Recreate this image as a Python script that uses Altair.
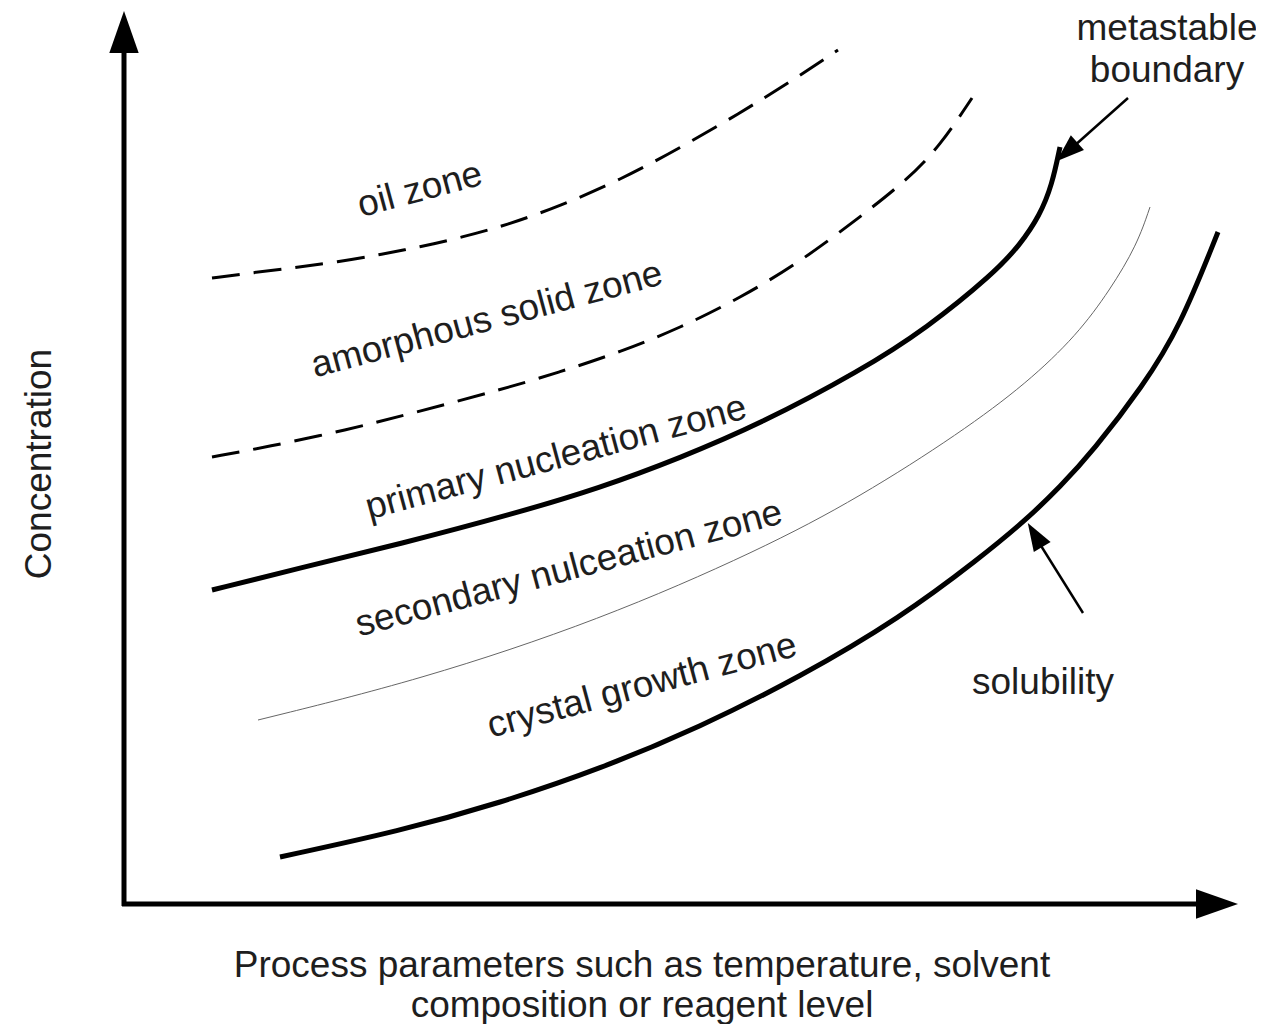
import altair as alt
import pandas as pd

# ---- curve data (page-pixel coordinates) ----
oil_x = [212, 250, 293, 337, 383, 420, 463, 507, 560, 620, 680, 740, 790, 838]
oil_y = [278, 273, 268, 262, 254, 247, 237, 225, 206, 180, 148, 113, 82, 50]

amorph_x = [212, 267, 347, 413, 500, 560, 620, 680, 740, 800, 860, 907, 940, 972]
amorph_y = [457, 447, 430, 413, 390, 372, 352, 328, 298, 262, 217, 180, 146, 98]

primary_x = [212, 300, 400, 513, 600, 680, 760, 860, 927, 993, 1020, 1040, 1052, 1060]
primary_y = [590, 568, 544, 514, 488, 458, 424, 371, 328, 274, 245, 215, 185, 147]

secondary_x = [258, 420, 600, 760, 860, 960, 1027, 1077, 1110, 1137, 1150]
secondary_y = [720, 680, 620, 550, 497, 433, 383, 335, 290, 245, 207]

solub_x = [280, 400, 500, 600, 700, 800, 900, 980, 1027, 1060, 1093, 1143, 1180, 1218]
solub_y = [857, 831, 803, 769, 727, 677, 618, 558, 519, 487, 451, 386, 327, 232]

# ---- axes, pointer arrows ----
axis_x1 = [124, 122]
axis_y1 = [906, 904]
axis_x2 = [124, 1200]
axis_y2 = [50, 904]

head_x = [124, 1217, 1067, 1035]
head_y = [32, 904, 152, 535]
head_angle = [0, 90, 228, 329]
head_size = [1764, 1764, 784, 784]

ptr_x1 = [1128, 1083]
ptr_y1 = [98, 613]
ptr_x2 = [1064, 1033]
ptr_y2 = [155, 533]

# ---- text labels ----
zone_labels = ["oil zone", "amorphous solid zone", "primary nucleation zone",
               "secondary nulceation zone", "crystal growth zone"]
zone_x = [420, 487, 556, 569, 642]
zone_y = [190, 320, 458, 569, 686]
zone_angle = [345, 345, 345, 345, 345]

plain_labels = ["metastable", "boundary", "solubility",
                "Process parameters such as temperature, solvent",
                "composition or reagent level"]
plain_x = [1167, 1167, 1043, 642, 642]
plain_y = [40, 82, 694, 977, 1017]

ylabel = ["Concentration"]
ylabel_x = [51]
ylabel_y = [464]

FONT = "Liberation Sans"
FS = 37

xs = alt.Scale(domain=[8, 1256], zero=False, nice=False)
ys = alt.Scale(domain=[1024, 8], zero=False, nice=False)


def curve(xv, yv, color="black", **mk):
    df = pd.DataFrame({"x": xv, "y": yv})
    return alt.Chart(df).mark_line(interpolate="basis", color=color, **mk).encode(
        x=alt.X("x:Q", scale=xs, axis=None),
        y=alt.Y("y:Q", scale=ys, axis=None),
        order="x:Q",
    )


oil = curve(oil_x, oil_y, strokeWidth=3, strokeDash=[28, 14])
amorph = curve(amorph_x, amorph_y, strokeWidth=3, strokeDash=[28, 14])
primary = curve(primary_x, primary_y, strokeWidth=5)
secondary = curve(secondary_x, secondary_y, color="#666666", strokeWidth=1)
solub = curve(solub_x, solub_y, strokeWidth=5)

axes_df = pd.DataFrame({"x": axis_x1, "y": axis_y1, "x2": axis_x2, "y2": axis_y2})
axes = alt.Chart(axes_df).mark_rule(color="black", strokeWidth=5, strokeCap="butt").encode(
    x=alt.X("x:Q", scale=xs, axis=None), y=alt.Y("y:Q", scale=ys, axis=None),
    x2="x2:Q", y2="y2:Q",
)

ptr_df = pd.DataFrame({"x": ptr_x1, "y": ptr_y1, "x2": ptr_x2, "y2": ptr_y2})
ptrs = alt.Chart(ptr_df).mark_rule(color="black", strokeWidth=2.5).encode(
    x=alt.X("x:Q", scale=xs, axis=None), y=alt.Y("y:Q", scale=ys, axis=None),
    x2="x2:Q", y2="y2:Q",
)

head_df = pd.DataFrame({"x": head_x, "y": head_y, "a": head_angle, "s": head_size})
heads = alt.Chart(head_df).mark_point(
    shape="M0,-1L0.7,1L-0.7,1Z", filled=True, color="black", opacity=1, strokeWidth=0
).encode(
    x=alt.X("x:Q", scale=xs, axis=None), y=alt.Y("y:Q", scale=ys, axis=None),
    angle=alt.Angle("a:Q", scale=None), size=alt.Size("s:Q", scale=None),
)

zone_df = pd.DataFrame({"t": zone_labels, "x": zone_x, "y": zone_y, "a": zone_angle})
zones = alt.Chart(zone_df).mark_text(
    font=FONT, fontSize=FS, color="#1e1e1e", align="center", baseline="middle"
).encode(
    x=alt.X("x:Q", scale=xs, axis=None), y=alt.Y("y:Q", scale=ys, axis=None),
    text="t:N", angle=alt.Angle("a:Q", scale=None),
)

plain_df = pd.DataFrame({"t": plain_labels, "x": plain_x, "y": plain_y})
plain = alt.Chart(plain_df).mark_text(
    font=FONT, fontSize=FS, color="#1e1e1e", align="center", baseline="alphabetic"
).encode(
    x=alt.X("x:Q", scale=xs, axis=None), y=alt.Y("y:Q", scale=ys, axis=None),
    text="t:N",
)

yl_df = pd.DataFrame({"t": ylabel, "x": ylabel_x, "y": ylabel_y})
yl = alt.Chart(yl_df).mark_text(
    font=FONT, fontSize=FS, color="#1e1e1e", align="center", baseline="alphabetic", angle=270
).encode(
    x=alt.X("x:Q", scale=xs, axis=None), y=alt.Y("y:Q", scale=ys, axis=None),
    text="t:N",
)

chart = alt.layer(
    oil, amorph, primary, secondary, solub, axes, ptrs, heads, zones, plain, yl
).properties(
    width=1248, height=1016, padding=0,
    autosize=alt.AutoSizeParams(type="none"),
    background="white",
).configure_view(stroke=None)

chart.save("out.html", embed_options={"renderer": "svg", "actions": False})
